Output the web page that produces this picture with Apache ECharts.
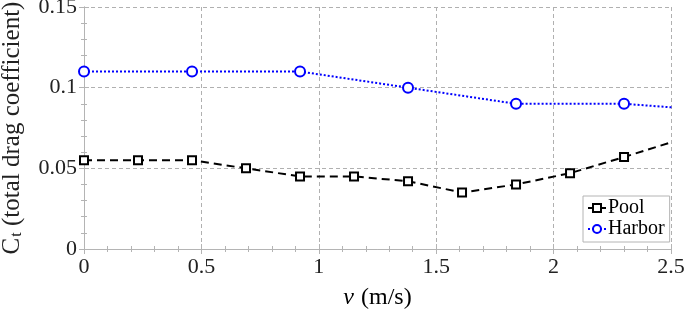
<!DOCTYPE html>
<html>
<head>
<meta charset="utf-8">
<script src="https://cdn.jsdelivr.net/npm/echarts@6/dist/echarts.min.js"></script>
<style>
  html, body { margin: 0; padding: 0; background: #fff; }
  #chart { width: 685px; height: 311px; }
</style>
</head>
<body>
<div id="chart"></div>
<script>
// flow speed v (m/s) and total drag coefficient Ct
const speedPool = [0, 0.23, 0.46, 0.69, 0.92, 1.15, 1.38, 1.61, 1.84, 2.07, 2.30, 2.53];
const ctPool = [0.055, 0.055, 0.055, 0.050, 0.045, 0.045, 0.042, 0.035, 0.040, 0.047, 0.057, 0.0675];
const speedHarbor = [0, 0.46, 0.92, 1.38, 1.84, 2.30, 2.76];
const ctHarbor = [0.11, 0.11, 0.11, 0.10, 0.09, 0.09, 0.085];

const serif = "Liberation Serif";
const boxColor = "#b4b4b4";

function pairs(xs, ys) {
  return xs.map((x, i) => [x, ys[i]]);
}

function frameAxis(pos, min, max, interval) {
  return {
    type: "value",
    position: pos,
    min: min,
    max: max,
    interval: interval,
    axisLine: { show: true, lineStyle: { color: boxColor, width: 1 } },
    axisTick: { show: true, inside: true, length: 5, lineStyle: { color: boxColor } },
    minorTick: { show: true, splitNumber: 5, length: 3, lineStyle: { color: boxColor } },
    axisLabel: { show: false },
    splitLine: { show: false }
  };
}

const chart = echarts.init(document.getElementById("chart"));

const option = {
  animation: false,
  textStyle: { fontFamily: serif },
  grid: { left: 84, right: 14, top: 7, bottom: 62, containLabel: false, outerBoundsMode: "none" },
  legend: {
    orient: "vertical",
    left: 583,
    top: 196,
    padding: [2, 5, 3, 4],
    itemGap: 1,
    itemWidth: 18,
    itemHeight: 10,
    backgroundColor: "#fff",
    borderColor: boxColor,
    borderWidth: 1,
    borderRadius: 0,
    textStyle: { fontFamily: serif, fontSize: 20, color: "#000", padding: [0, 0, 0, -3] },
    data: ["Pool", "Harbor"]
  },
  xAxis: [
    {
      type: "value",
      min: 0,
      max: 2.5,
      interval: 0.5,
      name: "{i|v} {n|(m/s)}",
      nameLocation: "middle",
      nameGap: 37,
      nameTextStyle: {
        rich: {
          i: { fontFamily: serif, fontSize: 24, fontStyle: "italic", color: "#000", padding: [0, 4, 0, 0] },
          n: { fontFamily: serif, fontSize: 24, color: "#000" }
        }
      },
      axisLine: { show: true, onZero: false, lineStyle: { color: boxColor, width: 1 } },
      axisTick: { show: true, inside: true, length: 5, lineStyle: { color: boxColor } },
      minorTick: { show: true, splitNumber: 5, length: 3, lineStyle: { color: boxColor } },
      axisLabel: { fontFamily: serif, fontSize: 22, color: "#222", margin: 7 },
      splitLine: { show: true, lineStyle: { color: "#b0b0b0", type: [4, 3], width: 1 } }
    },
    frameAxis("top", 0, 2.5, 0.5)
  ],
  yAxis: [
    {
      type: "value",
      min: 0,
      max: 0.15,
      interval: 0.05,
      name: "{m|C}{s|t}{m| (total drag coefficient)}",
      nameLocation: "middle",
      nameGap: 59,
      nameTextStyle: {
        rich: {
          m: { fontFamily: serif, fontSize: 25, color: "#222", lineHeight: 25, verticalAlign: "top" },
          s: { fontFamily: serif, fontSize: 16, color: "#222", lineHeight: 16, verticalAlign: "bottom", padding: [16, 0, 0, 1] }
        }
      },
      axisLine: { show: true, onZero: false, lineStyle: { color: boxColor, width: 1 } },
      axisTick: { show: true, inside: true, length: 5, lineStyle: { color: boxColor } },
      minorTick: { show: true, splitNumber: 5, length: 3, lineStyle: { color: boxColor } },
      axisLabel: { fontFamily: serif, fontSize: 22, color: "#222", margin: 7 },
      splitLine: { show: true, lineStyle: { color: "#b0b0b0", type: [4, 3], width: 1 } }
    },
    frameAxis("right", 0, 0.15, 0.05)
  ],
  series: [
    {
      name: "Pool",
      type: "line",
      data: pairs(speedPool, ctPool),
      clip: true,
      symbol: "emptyRect",
      symbolSize: 8,
      color: "#000",
      lineStyle: { color: "#000", width: 2, type: [8, 5] },
      itemStyle: { color: "#000", borderColor: "#000", borderWidth: 1.5 },
      z: 3
    },
    {
      name: "Harbor",
      type: "line",
      data: pairs(speedHarbor, ctHarbor),
      clip: true,
      symbol: "emptyCircle",
      symbolSize: 10,
      color: "#0000ff",
      lineStyle: { color: "#0000ff", width: 2, type: [2, 2] },
      itemStyle: { color: "#0000ff", borderColor: "#0000ff", borderWidth: 2 },
      z: 3
    }
  ]
};

chart.setOption(option);
</script>
</body>
</html>
